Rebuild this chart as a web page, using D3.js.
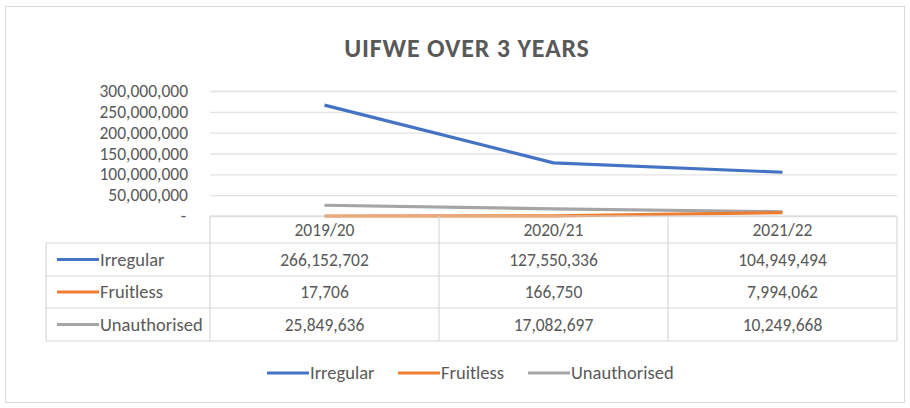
<!DOCTYPE html>
<html>
<head>
<meta charset="utf-8">
<script src="https://cdn.jsdelivr.net/npm/d3@7"></script>
<style>
  body { margin: 0; background: #fff; }
  text { font-family: Carlito, Lato, 'Open Sans', sans-serif; fill: #595959; }
</style>
</head>
<body>
<svg id="chart" width="910" height="408"></svg>
<script>
'use strict'

const categories = ['2019/20', '2020/21', '2021/22']
const seriesNames = ['Irregular', 'Fruitless', 'Unauthorised']
const irregular = [266152702, 127550336, 104949494]
const fruitless = [17706, 166750, 7994062]
const unauthorised = [25849636, 17082697, 10249668]
const yTicks = [0, 50000000, 100000000, 150000000, 200000000, 250000000, 300000000]
const colors = ['#4472C4', '#ED7D31', '#A5A5A5']

const series = seriesNames.map((name, i) => ({
  name,
  values: [irregular, fruitless, unauthorised][i],
  color: colors[i]
}))

const svg = d3.select('#chart')
const numSize = '17.5px'
const labelSize = '18.5px'

// outer frame
svg.append('rect')
  .attr('x', 5.5).attr('y', 6.5)
  .attr('width', 899).attr('height', 396)
  .attr('fill', '#fff').attr('stroke', '#d9d9d9')

svg.append('text')
  .attr('x', 467).attr('y', 57)
  .attr('text-anchor', 'middle')
  .style('font-size', '26px').style('font-weight', 'bold')
  .style('letter-spacing', '0.8px')
  .text('UIFWE OVER 3 YEARS')

const plot = { left: 210, right: 897, top: 91, bottom: 216 }

const x = d3.scaleBand().domain(categories).range([plot.left, plot.right])
const y = d3.scaleLinear().domain([0, 300000000]).range([plot.bottom, plot.top])

const fmt = d => d === 0 ? '-' : d3.format(',')(d)

// gridlines + y labels
const yAxis = d3.axisLeft(y).tickValues(yTicks).tickFormat(fmt)
  .tickSize(-(plot.right - plot.left)).tickPadding(22)
const gy = svg.append('g').attr('transform', `translate(${plot.left},0)`).call(yAxis)
gy.select('.domain').remove()
gy.selectAll('.tick line').attr('stroke', '#e3e3e3').attr('stroke-width', 1.3)
gy.selectAll('.tick text')
  .attr('fill', '#595959').style('font-size', numSize)
  .attr('x', d => d === 0 ? -24 : -22)

// lines
const line = d3.line()
  .x((d, i) => x(categories[i]) + x.bandwidth() / 2)
  .y(d => y(d))

svg.append('g').selectAll('path')
  .data(series.slice().reverse())
  .enter().append('path')
  .attr('d', d => line(d.values))
  .attr('fill', 'none')
  .attr('stroke', d => d.color)
  .attr('stroke-width', 3.2)
  .attr('stroke-linejoin', 'round')

// data table
const tableLeft = 46
const rowEdges = [216, 243, 276, 308, 341]
const grid = svg.append('g').attr('stroke', '#d9d9d9').attr('stroke-width', 1.2)

rowEdges.forEach((ry, i) => {
  grid.append('line')
    .attr('x1', i === 0 ? plot.left : tableLeft).attr('x2', plot.right)
    .attr('y1', ry).attr('y2', ry)
})
const colEdges = [plot.left].concat(categories.map(c => x(c) + x.bandwidth()))
colEdges.forEach(cx => {
  grid.append('line')
    .attr('x1', cx).attr('x2', cx)
    .attr('y1', rowEdges[0]).attr('y2', rowEdges[rowEdges.length - 1])
})
grid.append('line')
  .attr('x1', tableLeft).attr('x2', tableLeft)
  .attr('y1', rowEdges[1]).attr('y2', rowEdges[rowEdges.length - 1])

// header
svg.append('g').selectAll('text')
  .data(categories)
  .enter().append('text')
  .attr('x', d => x(d) + x.bandwidth() / 2)
  .attr('y', (rowEdges[0] + rowEdges[1]) / 2 + 6)
  .attr('text-anchor', 'middle')
  .style('font-size', numSize)
  .text(d => d)

// rows
series.forEach((s, r) => {
  const cy = (rowEdges[r + 1] + rowEdges[r + 2]) / 2
  const g = svg.append('g')
  g.append('line')
    .attr('x1', 57).attr('x2', 99)
    .attr('y1', cy).attr('y2', cy)
    .attr('stroke', s.color).attr('stroke-width', 3.2)
  g.append('text')
    .attr('x', 100).attr('y', cy + 6)
    .style('font-size', labelSize)
    .text(s.name)
  g.selectAll('text.val')
    .data(s.values)
    .enter().append('text')
    .attr('class', 'val')
    .attr('x', (d, i) => x(categories[i]) + x.bandwidth() / 2)
    .attr('y', cy + 6)
    .attr('text-anchor', 'middle')
    .style('font-size', numSize)
    .text(d => d3.format(',')(d))
})

// legend
const legendX = [267, 398, 528]
const legend = svg.append('g')
series.forEach((s, i) => {
  legend.append('line')
    .attr('x1', legendX[i]).attr('x2', legendX[i] + 42)
    .attr('y1', 373).attr('y2', 373)
    .attr('stroke', s.color).attr('stroke-width', 3.2)
  legend.append('text')
    .attr('x', legendX[i] + 43).attr('y', 379)
    .style('font-size', labelSize)
    .text(s.name)
})
</script>
</body>
</html>
